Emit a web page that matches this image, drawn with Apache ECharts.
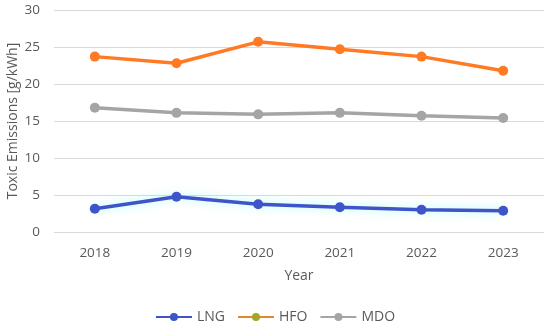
<!DOCTYPE html>
<html><head><meta charset="utf-8">
<script src="https://cdn.jsdelivr.net/npm/echarts@6/dist/echarts.min.js"></script>
<style>html,body{margin:0;padding:0;background:#fff}#c{width:550px;height:327px}</style>
</head><body><div id="c"></div>
<script>
const years = ['2018','2019','2020','2021','2022','2023'];
const lng = [3.15, 4.77, 3.74, 3.34, 3.0, 2.88];
const hfo = [23.7, 22.8, 25.7, 24.7, 23.7, 21.8];
const mdo = [16.8, 16.1, 15.9, 16.1, 15.7, 15.4];
const yTicks = [0, 5, 10, 15, 20, 25, 30];

const font = 'Open Sans, Liberation Sans, sans-serif';
const txt = '#595959';
const chart = echarts.init(document.getElementById('c'));
function mk(name, data, color, z, glow) {
  const ls = {width: 3.5, color};
  if (glow) { ls.shadowColor = 'rgba(150,250,250,0.8)'; ls.shadowBlur = 10; }
  return {
    name, type: 'line', data, z,
    symbol: 'circle', symbolSize: 10,
    lineStyle: ls,
    itemStyle: {color},
    emphasis: {disabled: true}
  };
}
chart.setOption({
  animation: false,
  grid: {left: 54, right: 6, top: 10, bottom: 95, containLabel: false, outerBoundsMode: 'none'},
  legend: {
    bottom: -2, left: 'center', itemWidth: 36, itemHeight: 10, itemGap: 12,
    textStyle: {color: txt, fontFamily: font, fontSize: 14},
    data: [
      {name: 'LNG'},
      {name: 'HFO', itemStyle: {color: '#a2a525'}, lineStyle: {color: '#e0882a'}},
      {name: 'MDO'}
    ]
  },
  xAxis: {
    type: 'category', data: years, boundaryGap: true,
    name: 'Year', nameLocation: 'middle', nameGap: 37, nameMoveOverlap: false,
    nameTextStyle: {color: txt, fontFamily: font, fontSize: 14},
    axisLine: {show: false}, axisTick: {show: false},
    axisLabel: {color: txt, fontFamily: font, fontSize: 13.5, margin: 14}
  },
  yAxis: {
    type: 'value', min: yTicks[0], max: yTicks[yTicks.length-1], interval: 5,
    name: 'Toxic Emissions [g/kWh]', nameLocation: 'middle', nameGap: 34, nameMoveOverlap: false,
    nameTextStyle: {color: txt, fontFamily: font, fontSize: 14},
    axisLabel: {color: txt, fontFamily: font, fontSize: 13.5, margin: 14},
    splitLine: {lineStyle: {color: '#d9d9d9', width: 1}}
  },
  series: [
    mk('LNG', lng, '#3d55c8', 3, true),
    mk('HFO', hfo, '#ff7a22', 2),
    mk('MDO', mdo, '#a5a5a5', 2)
  ]
});
</script></body></html>
